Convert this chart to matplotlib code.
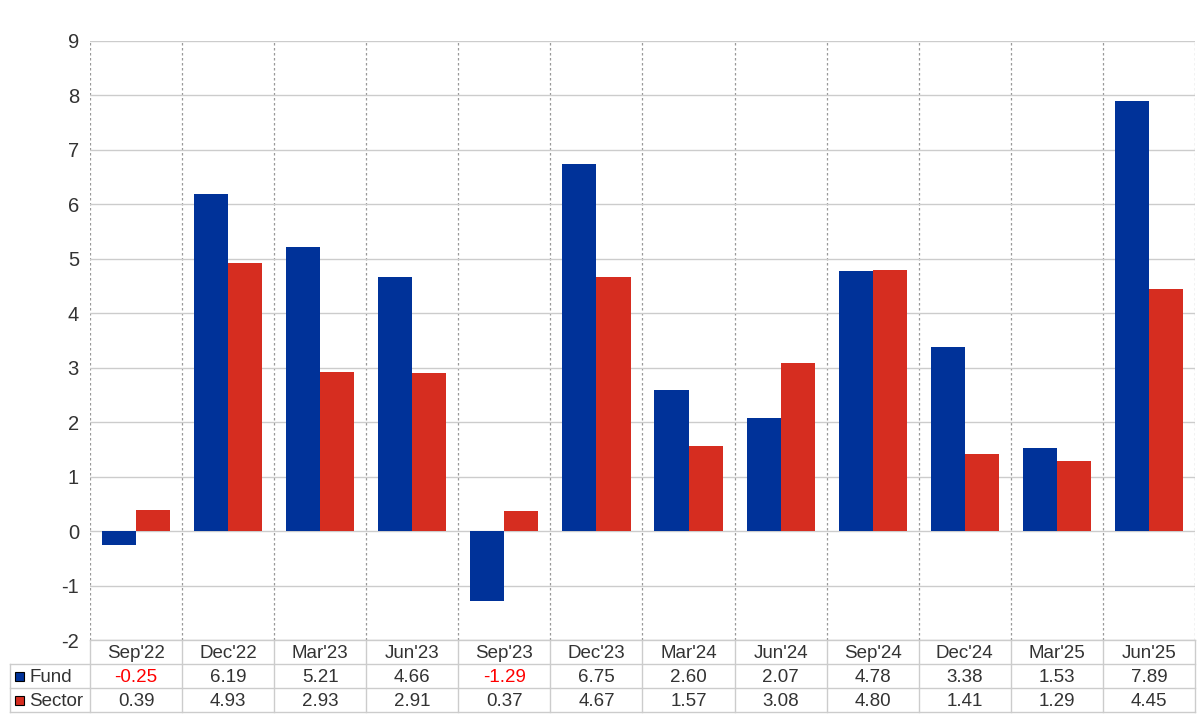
import matplotlib.pyplot as plt
from matplotlib.patches import Rectangle

plt.rcParams['font.family'] = ['Liberation Sans', 'DejaVu Sans']
plt.rcParams['axes.unicode_minus'] = False

quarters = ["Sep'22", "Dec'22", "Mar'23", "Jun'23", "Sep'23", "Dec'23",
            "Mar'24", "Jun'24", "Sep'24", "Dec'24", "Mar'25", "Jun'25"]
fund = [-0.25, 6.19, 5.21, 4.66, -1.29, 6.75, 2.60, 2.07, 4.78, 3.38, 1.53, 7.89]
sector = [0.39, 4.93, 2.93, 2.91, 0.37, 4.67, 1.57, 3.08, 4.80, 1.41, 1.29, 4.45]
series_names = ['Fund', 'Sector']
colors = ['#003299', '#D62D20']
text_color = '#333333'
grid_color = '#CCCCCC'

fig = plt.figure(figsize=(12, 7.2), dpi=100)
ax = fig.add_axes([90 / 1200, 80 / 720, 1105 / 1200, 599 / 720])

n = len(quarters)
w = 0.37
xs = list(range(n))
ax.bar([x - w / 2 for x in xs], fund, width=w, color=colors[0], zorder=3)
ax.bar([x + w / 2 for x in xs], sector, width=w, color=colors[1], zorder=3)

ax.set_xlim(-0.5, n - 0.5)
ax.set_ylim(-2, 9)
ax.set_yticks(range(-2, 10))
ax.set_xticks([])
ax.set_xticks([x + 0.5 for x in range(-1, n)], minor=True)
ax.tick_params(axis='x', which='both', length=0, labelbottom=False)
ax.tick_params(axis='y', length=0, pad=8, labelsize=14.5, labelcolor=text_color)
ax.grid(axis='y', color=grid_color, linewidth=1, zorder=0)
ax.grid(axis='x', which='minor', color='#999999', linestyle=(0, (2, 2)),
        linewidth=0.9, zorder=0)
for s in ax.spines.values():
    s.set_visible(False)

# data table under the plot (axes fraction coordinates)
tr = ax.transAxes
ph = 599.0
pw = 1105.0
row_h = 24 / ph
label_left = -80 / pw
col_w = 1.0 / n
fs = 13.5

def hline(y, x0, x1):
    ax.plot([x0, x1], [y, y], transform=tr, color=grid_color, lw=1,
            clip_on=False, zorder=1)

def vline(x, y0, y1):
    ax.plot([x, x], [y0, y1], transform=tr, color=grid_color, lw=1,
            clip_on=False, zorder=1)

y_top = 0.0
hline(y_top, 0, 1)
for k in range(1, 4):
    hline(y_top - k * row_h, label_left, 1)
for i in range(n + 1):
    vline(i * col_w, y_top, y_top - 3 * row_h)
vline(label_left, y_top - row_h, y_top - 3 * row_h)

for i, q in enumerate(quarters):
    ax.text((i + 0.5) * col_w, y_top - 0.5 * row_h, q, transform=tr,
            ha='center', va='center_baseline', fontsize=fs, color=text_color)

for r, (name, vals) in enumerate(zip(series_names, [fund, sector])):
    yc = y_top - (r + 1.5) * row_h
    sq = 9 / pw
    ax.add_patch(Rectangle((label_left + 5 / pw, yc - 4.5 / ph), sq, 9 / ph,
                           transform=tr, facecolor=colors[r],
                           edgecolor='black', lw=0.8, clip_on=False))
    ax.text(label_left + 19 / pw, yc, name, transform=tr, ha='left',
            va='center_baseline', fontsize=fs, color=text_color)
    for i, v in enumerate(vals):
        ax.text((i + 0.5) * col_w, yc, f'{v:.2f}', transform=tr,
                ha='center', va='center_baseline', fontsize=fs,
                color='red' if v < 0 else text_color)

fig.savefig('out.png', dpi=100)
